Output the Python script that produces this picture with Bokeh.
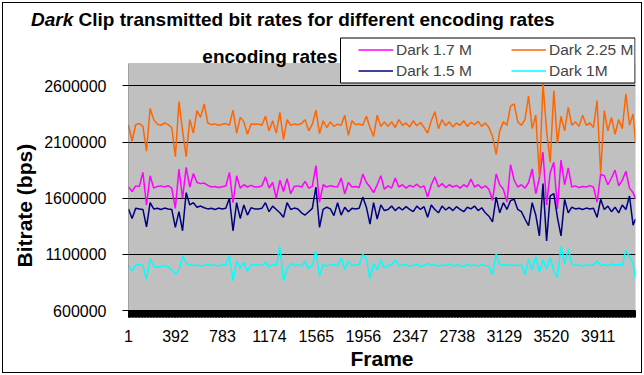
import math
from bokeh.plotting import figure
from bokeh.layouts import column
from bokeh.models import (Range1d, FixedTicker, BasicTickFormatter, Label, Legend, Div,
                          LegendItem, BoxAnnotation, ColumnDataSource, Title)
from bokeh.embed import file_html
from bokeh.resources import INLINE

# Frame numbers (x categories) at which the traces are sampled
frames = list(range(1, 4202, 30)) + [4221]

# Transmitted bit rates, in kbps
dark_1_7M = [1700, 1660, 1710, 1705, 1830, 1540, 1800, 1690, 1705, 1710, 1700, 1712, 1690, 1510, 1860, 1600,
             1875, 1700, 1820, 1740, 1730, 1735, 1715, 1700, 1705, 1695, 1702, 1708, 1830, 1560, 1800, 1690,
             1720, 1700, 1715, 1700, 1700, 1710, 1790, 1690, 1740, 1600, 1760, 1660, 1775, 1640, 1705, 1710,
             1700, 1750, 1690, 1705, 1890, 1565, 1720, 1700, 1712, 1705, 1700, 1780, 1640, 1740, 1700, 1705,
             1695, 1815, 1740, 1700, 1650, 1720, 1800, 1680, 1710, 1690, 1780, 1700, 1720, 1690, 1715, 1700,
             1725, 1695, 1710, 1610, 1720, 1790, 1700, 1730, 1695, 1720, 1700, 1715, 1690, 1720, 1700, 1770,
             1700, 1720, 1690, 1710, 1680, 1580, 1815, 1720, 1680, 1565, 1900, 1760, 1700, 1720, 1690, 1740,
             1860, 1640, 1780, 2010, 1540, 1830, 1920, 1505, 1940, 1720, 1870, 1700, 1710, 1695, 1705, 1700,
             1712, 1700, 1565, 1815, 1800, 1720, 1780, 1850, 1710, 1760, 1840, 1690, 1650, 1595]
dark_2_25M = [2250, 2110, 2255, 2265, 2240, 2020, 2400, 2300, 2260, 2250, 2270, 2255, 2230, 1970, 2460, 2200,
              1970, 2300, 2180, 2380, 2320, 2440, 2270, 2255, 2262, 2250, 2258, 2265, 2250, 2385, 2180, 2320,
              2280, 2170, 2262, 2258, 2262, 2250, 2330, 2200, 2290, 2180, 2365, 2125, 2300, 2250, 2262, 2255,
              2265, 2300, 2200, 2260, 2385, 2175, 2290, 2230, 2280, 2240, 2260, 2250, 2340, 2160, 2290, 2255,
              2262, 2250, 2330, 2230, 2150, 2340, 2240, 2280, 2240, 2280, 2230, 2300, 2250, 2270, 2235, 2290,
              2245, 2275, 2230, 2180, 2290, 2370, 2220, 2300, 2245, 2280, 2235, 2270, 2250, 2290, 2240, 2275,
              2255, 2285, 2240, 2270, 2230, 2150, 1990, 2200, 2280, 2250, 2420, 2440, 2280, 2250, 2300, 2510,
              2220, 2340, 1790, 2620, 2200, 1920, 2560, 2090, 2330, 2200, 2410, 2250, 2280, 2240, 2340, 2250,
              2270, 2230, 2470, 1820, 2380, 2200, 2320, 2170, 2300, 2220, 2530, 2250, 2350, 2100]
dark_1_5M = [1505, 1420, 1510, 1505, 1500, 1345, 1560, 1505, 1510, 1500, 1512, 1505, 1500, 1340, 1480, 1310,
             1650, 1540, 1560, 1520, 1530, 1515, 1505, 1510, 1500, 1512, 1505, 1510, 1600, 1310, 1560, 1420,
             1540, 1450, 1515, 1505, 1505, 1510, 1560, 1480, 1530, 1500, 1470, 1430, 1560, 1500, 1512, 1505,
             1470, 1450, 1480, 1510, 1700, 1340, 1500, 1520, 1505, 1445, 1560, 1450, 1520, 1480, 1510, 1505,
             1510, 1610, 1520, 1370, 1560, 1415, 1540, 1490, 1500, 1530, 1490, 1520, 1495, 1525, 1500, 1480,
             1530, 1500, 1525, 1430, 1540, 1500, 1470, 1530, 1495, 1520, 1490, 1525, 1500, 1480, 1520, 1505,
             1530, 1490, 1515, 1470, 1440, 1390, 1610, 1470, 1560, 1500, 1580, 1590, 1500, 1480, 1415, 1355,
             1560, 1450, 1265, 1730, 1220, 1620, 1640, 1430, 1265, 1590, 1470, 1520, 1505, 1510, 1500, 1512,
             1505, 1510, 1430, 1590, 1500, 1530, 1480, 1520, 1470, 1540, 1500, 1620, 1360, 1415]
dark_1M = [1005, 950, 1005, 1010, 1000, 880, 1060, 995, 985, 990, 1000, 990, 960, 925, 960, 1088,
           1020, 1010, 1000, 1005, 995, 1002, 1010, 1000, 1005, 995, 1008, 1010, 1090, 865, 1040, 975,
           1030, 950, 1005, 1008, 1005, 1000, 1030, 990, 1010, 1000, 1170, 865, 970, 1020, 1000, 1008,
           995, 1040, 970, 1005, 1130, 910, 1010, 995, 1005, 1010, 995, 1070, 960, 1040, 1000, 1005,
           1010, 1100, 1060, 885, 1020, 960, 1050, 980, 1000, 1010, 1050, 995, 1005, 1010, 995, 1000,
           1015, 990, 1005, 1020, 1000, 1010, 995, 1005, 1000, 1015, 995, 1008, 1000, 990, 1010, 1000,
           1005, 995, 1010, 1000, 995, 920, 1105, 1010, 1005, 1008, 1000, 1005, 1000, 1008, 920, 1060,
           960, 1080, 940, 1050, 970, 1070, 950, 895, 1170, 1010, 1150, 1010, 1000, 1005, 995, 1008,
           1000, 1005, 1040, 1000, 1010, 995, 1015, 1005, 1010, 1000, 1135, 1080, 1020, 885]

series_names = ["Dark 1.7 M", "Dark 2.25 M", "Dark 1.5 M", "Dark 1M"]
x_tick_labels = [1, 392, 783, 1174, 1565, 1956, 2347, 2738, 3129, 3520, 3911]
y_ticks = [600000, 1100000, 1600000, 2100000, 2600000]
y_min, y_max = 600000, 2800000

FONT = "Liberation Sans"

# ---------------- top strip: chart title (real HTML text) ----------------
TOP_H = 35
title_html = ('<div style="margin:0;padding:0 0 0 31px;position:relative;top:9px;'
              "font-family:'Liberation Sans',Arial,sans-serif;font-size:19px;font-weight:bold;"
              'line-height:21px;color:black;white-space:nowrap">'
              '<i>Dark</i> Clip transmitted bit rates for different encoding rates</div>')
top = Div(text=title_html, width=644, height=TOP_H, margin=0, styles={"overflow": "visible"})

# ---------------- main chart ----------------
FL, FB = 128, 310          # frame left / bottom in page pixels
FT = TOP_H                 # frame top in page pixels (white strip above plot area)
PLOT_TOP = 63              # top of grey plot area in page pixels
y_end = y_min + (y_max - y_min) * (FB - FT) / (FB - PLOT_TOP)

src = ColumnDataSource(dict(
    frame=frames,
    m=[v * 1000 for v in dark_1_7M],
    o=[v * 1000 for v in dark_2_25M],
    n=[v * 1000 for v in dark_1_5M],
    c=[v * 1000 for v in dark_1M],
))

p = figure(width=644, height=375 - TOP_H, output_backend="svg", toolbar_location=None,
           x_range=Range1d(1, 4221), y_range=Range1d(y_min, y_end),
           min_border_left=FL, min_border_right=9, min_border_top=0, min_border_bottom=65)
p.margin = 0
p.title.visible = False
p.background_fill_color = "white"
p.border_fill_color = None
p.outline_line_color = None

# grey plot area with border, left axis line
p.add_layout(BoxAnnotation(left=1, right=4221, bottom=y_min, top=y_max, level="image",
                           fill_color="#C0C0C0", fill_alpha=1, line_color="#808080", line_width=1))
p.add_layout(BoxAnnotation(left=1, right=1, bottom=y_min, top=y_max, level="guide",
                           fill_alpha=0, line_color="black", line_width=1))

lw = 1.5
r_m = p.line("frame", "m", source=src, line_color="#FF00FF", line_width=lw)
r_o = p.line("frame", "o", source=src, line_color="#FF6600", line_width=lw)
r_n = p.line("frame", "n", source=src, line_color="#000080", line_width=lw)
r_c = p.line("frame", "c", source=src, line_color="#00FFFF", line_width=lw)

p.xgrid.visible = False
p.ygrid.ticker = FixedTicker(ticks=y_ticks)
p.ygrid.grid_line_color = "black"
p.ygrid.grid_line_width = 1

p.yaxis.ticker = FixedTicker(ticks=y_ticks)
p.yaxis.formatter = BasicTickFormatter(use_scientific=False)
p.yaxis.major_tick_out = 6
p.yaxis.major_tick_in = 0
p.yaxis.major_tick_line_color = "black"
p.yaxis.minor_tick_line_color = None
p.yaxis.axis_line_color = None
p.yaxis.major_label_standoff = 16
p.yaxis.major_label_text_font = FONT
p.yaxis.major_label_text_font_size = "16px"
p.yaxis.major_label_text_color = "black"

p.xaxis.ticker = FixedTicker(ticks=x_tick_labels, minor_ticks=list(range(1, 4222, 5)))
p.xaxis.major_tick_out = 7
p.xaxis.major_tick_in = 0
p.xaxis.minor_tick_out = 7
p.xaxis.minor_tick_in = 0
p.xaxis.minor_tick_line_color = "black"
p.xaxis.major_tick_line_color = "black"
p.xaxis.axis_line_color = "black"
p.xaxis.major_label_standoff = 12
p.xaxis.major_label_text_font = FONT
p.xaxis.major_label_text_font_size = "16px"
p.xaxis.major_label_text_color = "black"
p.xaxis.axis_label = "Frame"
p.xaxis.axis_label_text_font = FONT
p.xaxis.axis_label_text_font_size = "21px"
p.xaxis.axis_label_text_font_style = "bold"
p.xaxis.axis_label_text_color = "black"
p.xaxis.axis_label_standoff = 2

# y axis title, placed in the left panel
p.add_layout(Title(text="Bitrate (bps)", align="left", offset=43, vertical_align="bottom", standoff=11,
                   text_font=FONT, text_font_size="21px", text_font_style="bold", text_color="black"), "left")

# legend box (screen units relative to frame)
p.add_layout(BoxAnnotation(left=340 - FL, right=634.5 - FL, top=FB - 37.5, bottom=FB - 82.5,
                           left_units="screen", right_units="screen", top_units="screen", bottom_units="screen",
                           fill_color="white", fill_alpha=1, line_color="black", line_width=1, line_alpha=1))

leg_common = dict(padding=0, spacing=0, margin=0, glyph_width=35, glyph_height=21, label_height=21,
                  label_standoff=3, label_text_font=FONT, label_text_font_size="15.5px",
                  background_fill_alpha=0, border_line_alpha=0)
legA = Legend(items=[LegendItem(label=series_names[0], renderers=[r_m]),
                     LegendItem(label=series_names[2], renderers=[r_n])],
              location=(358 - FL, FB - 81), **leg_common)
legB = Legend(items=[LegendItem(label=series_names[1], renderers=[r_o]),
                     LegendItem(label=series_names[3], renderers=[r_c])],
              location=(511 - FL, FB - 81), **leg_common)
p.add_layout(legA)
p.add_layout(legB)

p.add_layout(Label(x=337 - FL, y=FB - 56, x_units="screen", y_units="screen", text="encoding rates",
                   text_font=FONT, text_font_size="19px", text_font_style="bold",
                   text_baseline="alphabetic", text_align="right", text_color="black"))

layout = column(top, p, spacing=0, margin=0,
                styles={"outline": "1px solid black", "outline-offset": "-3px"})

open("out.html", "w").write(file_html(layout, INLINE))
